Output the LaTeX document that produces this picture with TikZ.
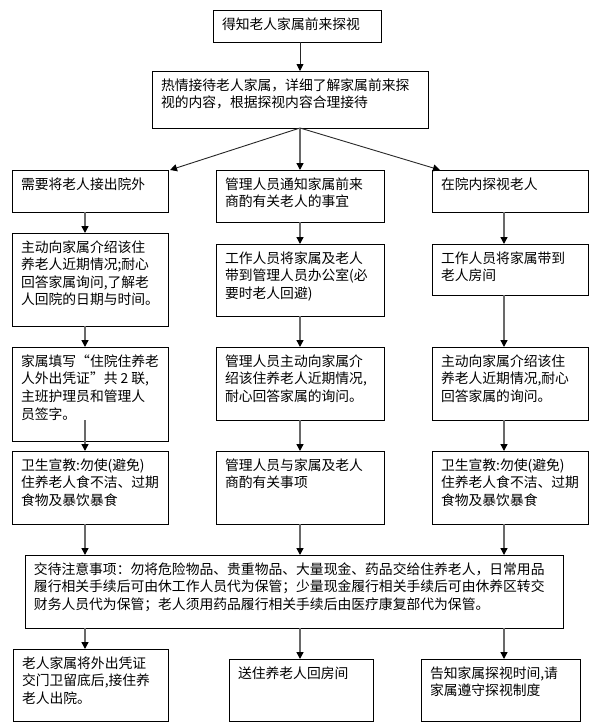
\documentclass[tikz,border=0pt]{standalone}
\usepackage{fontspec}
\newfontfamily\cjk{Noto Sans CJK SC}
\usetikzlibrary{arrows.meta}
\definecolor{conn}{RGB}{105,105,105}
\tikzset{
  flow/.style={draw=black, line width=0.9pt, anchor=north west, inner xsep=9pt, inner ysep=7.5pt, outer sep=0pt,
    font=\cjk\fontsize{13.8}{17.6}\selectfont},
  tipk/.style={-{Triangle[width=7pt,length=7pt,color=black]}},
  varr/.style={tipk, draw=conn, line width=1.4pt},
  darr/.style={tipk, draw=black!85, line width=0.9pt}
}
\newcommand\flowbox[6]{%
  \node[flow] (#1) at (#2,#3) {\parbox[t][\dimexpr#5pt-15pt\relax][t]{\dimexpr#4pt-18pt\relax}{\raggedright #6}};}
\begin{document}
\begin{tikzpicture}[x=1pt,y=-1pt]
\useasboundingbox (0,0) rectangle (589,723);
\fill[white] (0,0) rectangle (589,723);
\flowbox{top}{213}{10}{168}{32}{得知老人家属前来探视}
\flowbox{b2}{152}{71}{276}{57}{热情接待老人家属，详细了解家属前来探\\视的内容，根据探视内容合理接待}
\flowbox{r1a}{12}{170}{156}{42}{需要将老人接出院外}
\flowbox{r1b}{216}{170}{168}{52}{管理人员通知家属前来\\商酌有关老人的事宜}
\flowbox{r1c}{432}{170}{156}{42}{在院内探视老人}
\flowbox{r2a}{12}{233}{156}{93}{主动向家属介绍该住\\养老人近期情况;耐心\\回答家属询问,了解老\\人回院的日期与时间。}
\flowbox{r2b}{216}{244}{168}{72}{工作人员将家属及老人\\带到管理人员办公室(必\\要时老人回避)}
\flowbox{r2c}{432}{244}{156}{51}{工作人员将家属带到\\老人房间}
\flowbox{r3a}{12}{347}{156}{94}{家属填写“住院住养老\\人外出凭证”共 2 联,\\主班护理员和管理人\\员签字。}
\flowbox{r3b}{216}{347}{168}{73}{管理人员主动向家属介\\绍该住养老人近期情况,\\耐心回答家属的询问。}
\flowbox{r3c}{432}{347}{156}{73}{主动向家属介绍该住\\养老人近期情况,耐心\\回答家属的询问。}
\flowbox{r4a}{12}{451}{156}{73}{卫生宣教:勿使(避免)\\住养老人食不洁、过期\\食物及暴饮暴食}
\flowbox{r4b}{216}{451}{168}{73}{管理人员与家属及老人\\商酌有关事项}
\flowbox{r4c}{432}{451}{156}{73}{卫生宣教:勿使(避免)\\住养老人食不洁、过期\\食物及暴饮暴食}
\flowbox{big}{25}{555}{538}{73}{交待注意事项：勿将危险物品、贵重物品、大量现金、药品交给住养老人，日常用品\\履行相关手续后可由休工作人员代为保管；少量现金履行相关手续后可由休养区转交\\财务人员代为保管；老人须用药品履行相关手续后由医疗康复部代为保管。}
\flowbox{ba}{13}{649}{155}{72}{老人家属将外出凭证\\交门卫留底后,接住养\\老人出院。}
\flowbox{bb}{229}{659}{144}{62}{送住养老人回房间}
\flowbox{bc}{421}{659}{159}{62}{告知家属探视时间,请\\家属遵守探视制度}
\coordinate (cA) at (85,0);
\coordinate (cB) at (300,0);
\coordinate (cC) at (504,0);
\coordinate (sA) at (85,420);
\coordinate (tR) at (440,170);
\coordinate (tL) at (170,170);
% connectors
\draw[darr] (top.south -| cB) -- (b2.north -| cB);
\draw[darr] (b2.south -| cB) -- (tL);
\draw[varr] (b2.south -| cB) -- (r1b.north -| cB);
\draw[darr] (b2.south -| cB) -- (tR);
\draw[varr] (r1a.south -| cA) -- (r2a.north -| cA);
\draw[varr] (r1b.south -| cB) -- (r2b.north -| cB);
\draw[varr] (r1c.south -| cC) -- (r2c.north -| cC);
\draw[varr] (r2a.south -| cA) -- (r3a.north -| cA);
\draw[varr] (r2b.south -| cB) -- (r3b.north -| cB);
\draw[varr] (r2c.south -| cC) -- (r3c.north -| cC);
\draw[varr] (sA) -- (r4a.north -| cA);
\draw[varr] (r3b.south -| cB) -- (r4b.north -| cB);
\draw[varr] (r3c.south -| cC) -- (r4c.north -| cC);
\draw[varr] (r4a.south -| cA) -- (big.north -| cA);
\draw[varr] (r4b.south -| cB) -- (big.north -| cB);
\draw[varr] (r4c.south -| cC) -- (big.north -| cC);
\draw[varr] (big.south -| cA) -- (ba.north -| cA);
\draw[varr] (big.south -| cB) -- (bb.north -| cB);
\draw[varr] (big.south -| cC) -- (bc.north -| cC);
\end{tikzpicture}
\end{document}
